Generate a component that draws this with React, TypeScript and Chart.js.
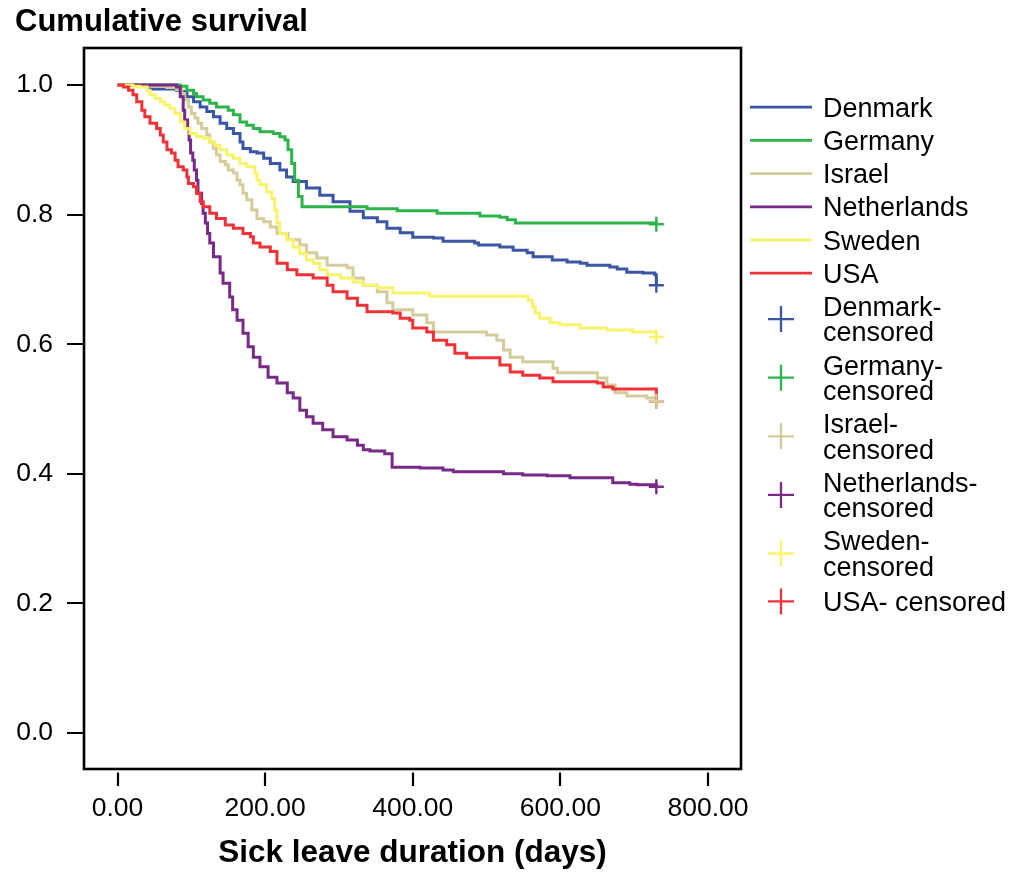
import React, { useEffect, useRef } from "react";
import { Chart, registerables } from "chart.js";

Chart.register(...registerables);

const FONT = '"Liberation Sans", Arial, Helvetica, sans-serif';

const seriesNames = ["Denmark", "Germany", "Israel", "Netherlands", "Sweden", "USA"];
const seriesColors = ["#3a56a5", "#2cb34a", "#d4cc9a", "#772a86", "#f9f36c", "#ee3237"];
const censoredLabels = [
  ["Denmark-", "censored"],
  ["Germany-", "censored"],
  ["Israel-", "censored"],
  ["Netherlands-", "censored"],
  ["Sweden-", "censored"],
  ["USA- censored"],
];

// [day, cumulative survival]
const denmark: [number, number][] = [
  [0, 1.0], [44, 0.994], [80, 0.992], [85, 0.99], [94, 0.982], [103, 0.974], [112, 0.966], [121, 0.959],
  [130, 0.951], [139, 0.941], [148, 0.933], [157, 0.925], [166, 0.912], [170, 0.902], [180, 0.897],
  [189, 0.895], [198, 0.887], [207, 0.879], [220, 0.869], [229, 0.858], [238, 0.851], [256, 0.841],
  [274, 0.83], [292, 0.82], [315, 0.805], [333, 0.795], [352, 0.789], [365, 0.779], [383, 0.772],
  [400, 0.765], [428, 0.764], [441, 0.759], [484, 0.756], [489, 0.753], [518, 0.75], [536, 0.745],
  [555, 0.741], [563, 0.735], [589, 0.73], [609, 0.727], [627, 0.725], [636, 0.722], [667, 0.719],
  [677, 0.716], [690, 0.711], [712, 0.71], [728, 0.707], [730, 0.691],
];
const germany: [number, number][] = [
  [0, 1.0], [85, 0.998], [94, 0.992], [103, 0.987], [107, 0.982], [116, 0.977], [125, 0.972],
  [134, 0.966], [150, 0.961], [157, 0.954], [166, 0.943], [175, 0.938], [184, 0.933], [193, 0.928],
  [211, 0.925], [220, 0.92], [227, 0.915], [231, 0.9], [236, 0.879], [240, 0.853], [245, 0.828],
  [250, 0.812], [338, 0.809], [379, 0.806], [433, 0.802], [491, 0.798], [518, 0.796], [528, 0.792],
  [539, 0.787], [730, 0.785],
];
const israel: [number, number][] = [
  [0, 1.0], [44, 0.998], [67, 0.996], [80, 0.993], [87, 0.987], [91, 0.977], [96, 0.966], [100, 0.956],
  [105, 0.949], [109, 0.941], [114, 0.933], [121, 0.923], [125, 0.912], [130, 0.902], [134, 0.892],
  [139, 0.882], [146, 0.877], [150, 0.869], [157, 0.864], [162, 0.853], [166, 0.846], [170, 0.833],
  [175, 0.823], [182, 0.807], [189, 0.794], [198, 0.789], [207, 0.781], [216, 0.771], [231, 0.761],
  [247, 0.753], [256, 0.741], [270, 0.733], [284, 0.722], [311, 0.718], [319, 0.702], [333, 0.691],
  [352, 0.681], [365, 0.664], [373, 0.653], [400, 0.645], [419, 0.633], [428, 0.619], [500, 0.614],
  [514, 0.606], [523, 0.591], [532, 0.58], [549, 0.573], [590, 0.563], [596, 0.556], [650, 0.548],
  [663, 0.537], [674, 0.525], [690, 0.52], [717, 0.517], [730, 0.512],
];
const netherlands: [number, number][] = [
  [0, 1.0], [80, 0.997], [85, 0.982], [89, 0.961], [91, 0.946], [95, 0.933], [97, 0.915], [99, 0.895],
  [102, 0.884], [104, 0.869], [107, 0.853], [109, 0.833], [114, 0.817], [116, 0.802], [119, 0.787],
  [122, 0.771], [125, 0.756], [130, 0.735], [139, 0.71], [143, 0.694], [152, 0.673], [156, 0.653],
  [162, 0.637], [170, 0.617], [177, 0.596], [184, 0.58], [193, 0.565], [204, 0.549], [216, 0.54],
  [230, 0.525], [238, 0.517], [247, 0.498], [256, 0.488], [265, 0.478], [278, 0.468], [292, 0.457],
  [311, 0.452], [325, 0.444], [333, 0.437], [342, 0.435], [362, 0.431], [372, 0.41], [410, 0.409],
  [441, 0.406], [455, 0.403], [523, 0.4], [549, 0.398], [582, 0.397], [613, 0.394], [671, 0.386],
  [694, 0.384], [704, 0.383], [730, 0.38],
];
const sweden: [number, number][] = [
  [0, 1.0], [21, 0.998], [30, 0.997], [40, 0.992], [44, 0.985], [51, 0.979], [58, 0.974], [64, 0.969],
  [71, 0.964], [78, 0.956], [85, 0.943], [91, 0.933], [98, 0.925], [107, 0.92], [116, 0.918],
  [125, 0.912], [132, 0.907], [139, 0.9], [148, 0.892], [157, 0.887], [166, 0.879], [175, 0.874],
  [186, 0.864], [189, 0.853], [193, 0.846], [202, 0.835], [209, 0.825], [213, 0.807], [216, 0.787],
  [220, 0.771], [229, 0.761], [238, 0.75], [247, 0.74], [256, 0.73], [265, 0.725], [274, 0.715],
  [284, 0.707], [302, 0.702], [319, 0.696], [333, 0.691], [352, 0.687], [373, 0.679], [423, 0.674],
  [556, 0.668], [562, 0.657], [566, 0.648], [572, 0.64], [586, 0.633], [600, 0.63], [627, 0.625],
  [663, 0.622], [698, 0.619], [730, 0.611],
];
const usa: [number, number][] = [
  [0, 1.0], [8, 0.997], [15, 0.992], [21, 0.985], [26, 0.974], [33, 0.961], [37, 0.951], [44, 0.941],
  [53, 0.933], [58, 0.923], [62, 0.912], [67, 0.9], [73, 0.895], [78, 0.884], [82, 0.874], [89, 0.869],
  [94, 0.858], [96, 0.848], [103, 0.843], [107, 0.833], [112, 0.82], [116, 0.812], [125, 0.802],
  [134, 0.794], [146, 0.784], [157, 0.779], [170, 0.771], [180, 0.766], [184, 0.756], [193, 0.75],
  [207, 0.743], [216, 0.725], [230, 0.715], [243, 0.707], [265, 0.702], [284, 0.691], [292, 0.681],
  [311, 0.671], [325, 0.66], [338, 0.65], [373, 0.648], [383, 0.64], [396, 0.637], [400, 0.625],
  [419, 0.619], [428, 0.606], [446, 0.599], [457, 0.586], [473, 0.579], [518, 0.568], [532, 0.557],
  [549, 0.552], [572, 0.548], [590, 0.542], [650, 0.54], [658, 0.534], [671, 0.531], [730, 0.512],
];
const seriesData = [denmark, germany, israel, netherlands, sweden, usa];

const censorDay = 730;
const censorSurvival = [0.691, 0.785, 0.512, 0.38, 0.611, 0.512];

const xTicks = [0, 200, 400, 600, 800];
const xTickLabels = ["0.00", "200.00", "400.00", "600.00", "800.00"];
const yTicks = [0, 0.2, 0.4, 0.6, 0.8, 1.0];
const yTickLabels = ["0.0", "0.2", "0.4", "0.6", "0.8", "1.0"];

const decorPlugin = {
  id: "decor",
  afterDraw(chart: any) {
    const { ctx, chartArea: a, scales } = chart;
    ctx.save();
    // frame
    ctx.strokeStyle = "#000";
    ctx.lineWidth = 2.6;
    ctx.strokeRect(a.left, a.top, a.right - a.left, a.bottom - a.top);
    // tick marks
    ctx.lineWidth = 2.2;
    ctx.beginPath();
    yTicks.forEach((v) => {
      const y = Math.round(scales.y.getPixelForValue(v));
      ctx.moveTo(a.left - 17, y);
      ctx.lineTo(a.left - 1, y);
    });
    xTicks.forEach((v) => {
      const x = Math.round(scales.x.getPixelForValue(v));
      ctx.moveTo(x, a.bottom + 3.5);
      ctx.lineTo(x, a.bottom + 17);
    });
    ctx.stroke();

    // legend
    const L = 25.4;
    const g = 7.8;
    const fs = 27;
    const cap = (fs * 0.716) / 2;
    let y = 90.6;
    ctx.font = `${fs}px ${FONT}`;
    ctx.fillStyle = "#000";
    ctx.textAlign = "left";
    ctx.textBaseline = "alphabetic";
    seriesNames.forEach((name, i) => {
      const c = y + (L + g) / 2;
      ctx.strokeStyle = seriesColors[i];
      ctx.lineWidth = 2.8;
      ctx.beginPath();
      ctx.moveTo(750, c);
      ctx.lineTo(812, c);
      ctx.stroke();
      ctx.fillText(name, 823, c + cap);
      y += L + g;
    });
    censoredLabels.forEach((lines, i) => {
      const h = lines.length * L + g;
      const c = y + h / 2 + (lines.length === 1 ? 2 : 0);
      ctx.strokeStyle = seriesColors[i];
      ctx.lineWidth = 2.3;
      ctx.beginPath();
      ctx.moveTo(781 - 13, c);
      ctx.lineTo(781 + 13, c);
      ctx.moveTo(781, c - 13);
      ctx.lineTo(781, c + 13);
      ctx.stroke();
      lines.forEach((t, j) => {
        ctx.fillText(t, 823, c + (j - (lines.length - 1) / 2) * L + cap);
      });
      y += h;
    });
    ctx.restore();
  },
};

export default function App() {
  const ref = useRef<HTMLCanvasElement>(null);
  useEffect(() => {
    if (!ref.current) return;
    const lineSets = seriesNames.map((name, i) => ({
      label: name,
      data: seriesData[i].map(([x, y]) => ({ x, y })),
      borderColor: seriesColors[i],
      backgroundColor: seriesColors[i],
      borderWidth: 3,
      pointRadius: 0,
      stepped: true as const,
      fill: false,
      tension: 0,
      order: 6 - i,
    }));
    const crossSets = seriesNames.map((name, i) => ({
      label: censoredLabels[i].join(" "),
      data: [{ x: censorDay, y: censorSurvival[i] }],
      showLine: false,
      pointStyle: "cross" as const,
      pointRadius: 7.5,
      pointBorderWidth: 2.4,
      borderColor: seriesColors[i],
      backgroundColor: seriesColors[i],
      pointBorderColor: seriesColors[i],
      order: 0,
    }));
    const chart = new Chart(ref.current, {
      type: "line",
      data: { datasets: [...lineSets, ...crossSets] as any },
      options: {
        animation: false,
        responsive: false,
        devicePixelRatio: 1,
        layout: { padding: { left: 15, right: 273, top: 0, bottom: 0 } },
        plugins: {
          legend: { display: false },
          tooltip: { enabled: false },
          title: {
            display: true,
            text: "Cumulative survival",
            align: "start",
            color: "#000",
            font: { family: FONT, size: 31, weight: "bold", lineHeight: 1.2 },
            padding: { top: 3.4, bottom: 7.4 },
          },
        },
        scales: {
          x: {
            type: "linear",
            min: -45.4,
            max: 844.7,
            grid: { display: false, drawTicks: false },
            border: { display: false },
            afterBuildTicks: (scale: any) => {
              scale.ticks = xTicks.map((v) => ({ value: v }));
            },
            afterFit: (scale: any) => {
              scale.height = 103;
            },
            ticks: {
              autoSkip: false,
              maxRotation: 0,
              padding: 23.5,
              color: "#000",
              font: { family: FONT, size: 26.5, lineHeight: 1.2 },
              callback: (_v: any, i: number) => xTickLabels[i],
            },
            title: {
              display: true,
              text: "Sick leave duration (days)",
              color: "#000",
              font: { family: FONT, size: 31.5, weight: "bold", lineHeight: 1.1 },
              padding: { top: 0, bottom: 1 },
            },
          },
          y: {
            type: "linear",
            min: -0.0556,
            max: 1.0571,
            grid: { display: false, drawTicks: false },
            border: { display: false },
            afterBuildTicks: (scale: any) => {
              scale.ticks = yTicks.map((v) => ({ value: v }));
            },
            afterFit: (scale: any) => {
              scale.width = 69;
            },
            ticks: {
              autoSkip: false,
              padding: 31,
              color: "#000",
              font: { family: FONT, size: 26.5, lineHeight: 1.2 },
              callback: (_v: any, i: number) => yTickLabels[i],
            },
          },
        },
      },
      plugins: [decorPlugin],
    });
    return () => chart.destroy();
  }, []);
  return (
    <canvas
      ref={ref}
      width={1014}
      height={872}
      style={{ position: "fixed", left: 0, top: 0, width: "1014px", height: "872px", display: "block" }}
    />
  );
}
